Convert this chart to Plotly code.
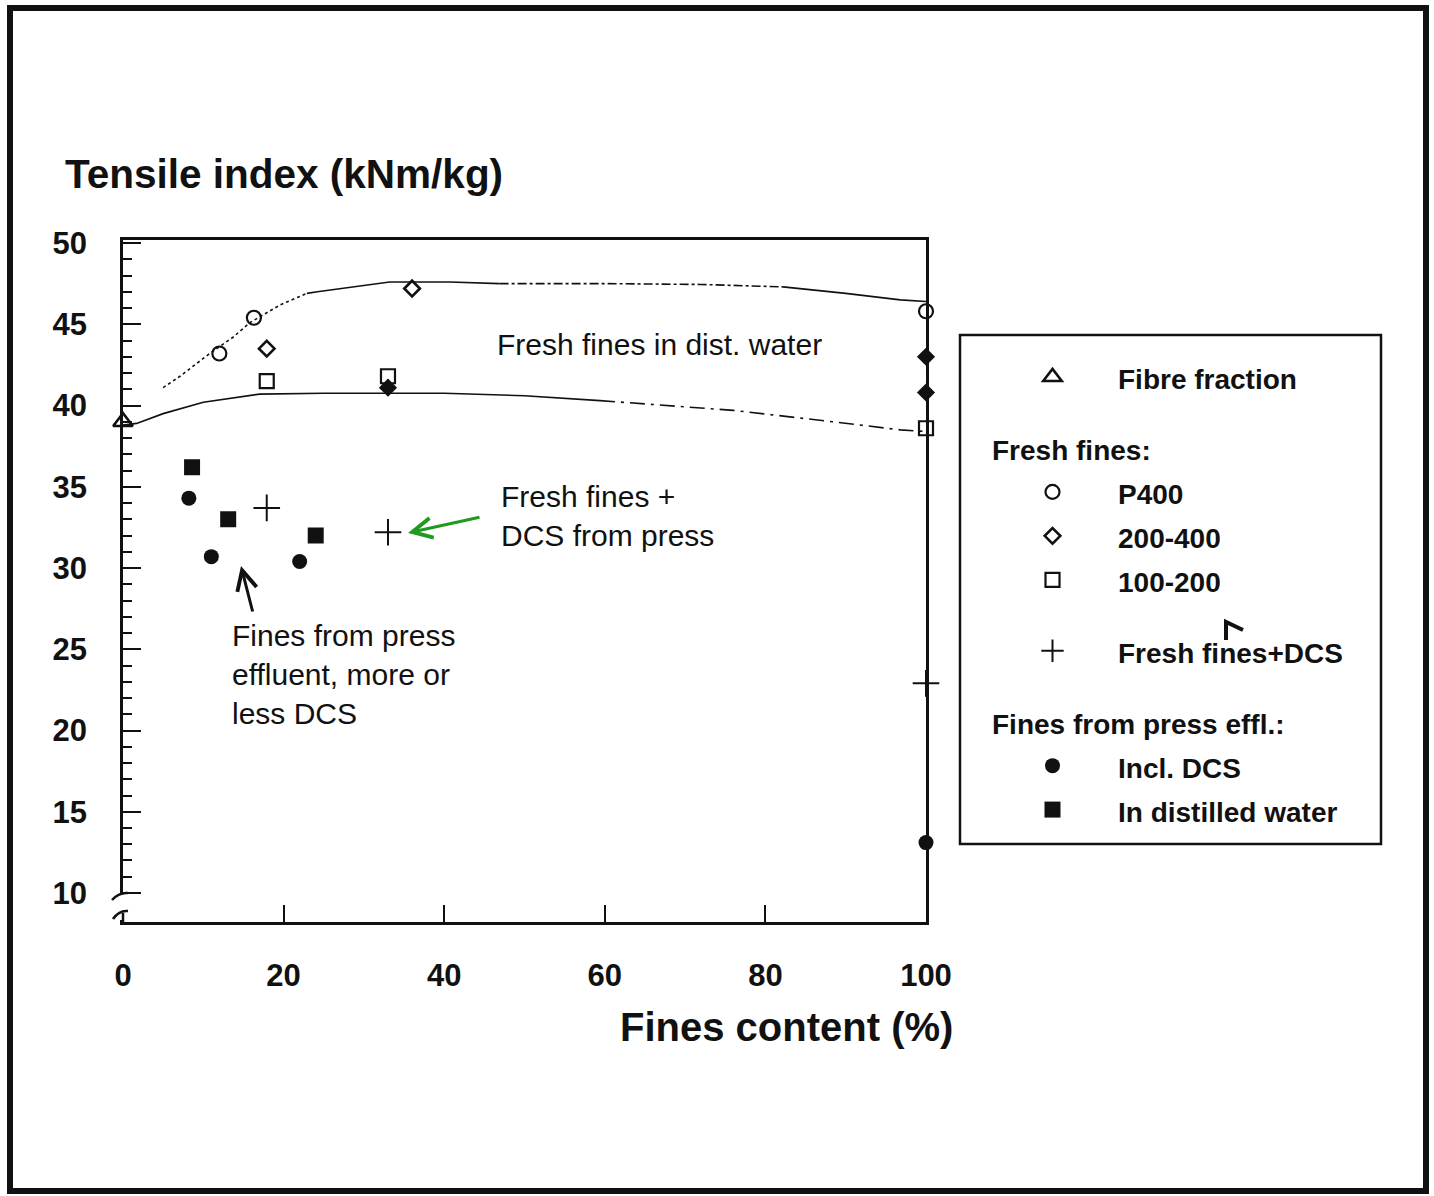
import plotly.graph_objects as go

W, H = 1434, 1196


def px(x):
    return x / W


def py(y):
    return 1 - y / H


# ---------------- data ----------------
fibre_x = [0]
fibre_y = [39.0]

p400_x = [12.0, 16.3, 100]
p400_y = [43.2, 45.4, 45.8]

d200_x = [17.9, 36.0]
d200_y = [43.5, 47.2]
d200_filled_x = [33.0, 100, 100]
d200_filled_y = [41.1, 43.0, 40.8]

s100_x = [17.9, 33.0, 100]
s100_y = [41.5, 41.8, 38.6]

dcs_x = [17.9, 33.0, 100]
dcs_y = [33.7, 32.2, 22.9]

incl_x = [8.2, 11.0, 22.0, 100]
incl_y = [34.3, 30.7, 30.4, 13.1]

dist_x = [8.6, 13.1, 24.0]
dist_y = [36.2, 33.0, 32.0]

upper_x = [5.0, 7.1, 10.8, 13.7, 15.8, 19.6, 22.9, 24.2, 33.2, 40.7, 46.9, 60.0, 71.9, 82.2, 90.0, 96.8, 100]
upper_y = [41.1, 41.8, 43.2, 44.2, 45.1, 46.2, 46.9, 47.0, 47.6, 47.6, 47.5, 47.5, 47.45, 47.3, 46.9, 46.5, 46.4]

lower_x = [0, 1.7, 5.0, 10.0, 17.0, 25.0, 40.0, 50.0, 59.4, 68.0, 76.0, 88.4, 96.8, 100]
lower_y = [38.8, 38.9, 39.5, 40.2, 40.7, 40.75, 40.75, 40.6, 40.3, 40.0, 39.7, 39.0, 38.5, 38.4]

x_ticks = [0, 20, 40, 60, 80, 100]
y_ticks = [10, 15, 20, 25, 30, 35, 40, 45, 50]

# line segment styles (index ranges into the curve arrays)
upper_segments = [(0, 7, "dot"), (6, 11, "solid"), (10, 14, "dashdot"), (13, 17, "solid")]
lower_segments = [(0, 9, "solid"), (8, 14, "longdashdot")]

FONT = "Liberation Sans"
BLACK = "#111111"


def leg(txt):
    return f'<span style="font-size:28px">{txt}</span>'


fig = go.Figure()

for a, b, dash in upper_segments:
    fig.add_trace(go.Scatter(x=upper_x[a:b], y=upper_y[a:b], mode="lines",
                             line=dict(color=BLACK, width=1.6, dash=dash),
                             showlegend=False, hoverinfo="skip"))
for a, b, dash in lower_segments:
    fig.add_trace(go.Scatter(x=lower_x[a:b], y=lower_y[a:b], mode="lines",
                             line=dict(color=BLACK, width=1.6, dash=dash),
                             showlegend=False, hoverinfo="skip"))

open_line = dict(color=BLACK, width=2.2)
title_font = dict(family=FONT, size=31.5, color=BLACK)

fig.add_trace(go.Scatter(x=fibre_x, y=fibre_y, mode="markers", name=leg("Fibre fraction"),
                         legendgroup="g0", legendrank=1,
                         marker=dict(symbol="triangle-up-open", size=17, color=BLACK, line=dict(color=BLACK, width=2.6)),
                         cliponaxis=False))
fig.add_trace(go.Scatter(x=p400_x, y=p400_y, mode="markers", name=leg("P400"),
                         legendgroup="g1", legendrank=2,
                         legendgrouptitle=dict(text='<b><span style="font-size:28px">Fresh fines:</span></b>', font=title_font),
                         marker=dict(symbol="circle-open", size=14, color=BLACK, line=open_line),
                         cliponaxis=False))
fig.add_trace(go.Scatter(x=d200_x, y=d200_y, mode="markers", name=leg("200-400"),
                         legendgroup="g1", legendrank=3,
                         marker=dict(symbol="diamond-open", size=12, color=BLACK, line=dict(color=BLACK, width=2.6)),
                         cliponaxis=False))
fig.add_trace(go.Scatter(x=s100_x, y=s100_y, mode="markers", name=leg("100-200"),
                         legendgroup="g1", legendrank=4,
                         marker=dict(symbol="square-open", size=14, color=BLACK, line=open_line),
                         cliponaxis=False))
fig.add_trace(go.Scatter(x=d200_filled_x, y=d200_filled_y, mode="markers", name="200-400 (filled)",
                         showlegend=False,
                         marker=dict(symbol="diamond", size=14, color=BLACK),
                         cliponaxis=False))
fig.add_trace(go.Scatter(x=dcs_x, y=dcs_y, mode="markers", name=leg("Fresh fines+DCS"),
                         legendgroup="g2", legendrank=5,
                         marker=dict(symbol="cross-thin-open", size=19, color=BLACK, line=dict(color=BLACK, width=2)),
                         cliponaxis=False))
fig.add_trace(go.Scatter(x=incl_x, y=incl_y, mode="markers", name=leg("Incl. DCS"),
                         legendgroup="g3", legendrank=6,
                         legendgrouptitle=dict(text='<b><span style="font-size:28px">Fines from press effl.:</span></b>', font=title_font),
                         marker=dict(symbol="circle", size=15, color=BLACK),
                         cliponaxis=False))
fig.add_trace(go.Scatter(x=dist_x, y=dist_y, mode="markers", name=leg("In distilled water"),
                         legendgroup="g3", legendrank=7,
                         marker=dict(symbol="square", size=16, color=BLACK),
                         cliponaxis=False))

y_minor = [v for v in range(11, 50) if v % 5 != 0]

fig.update_layout(
    width=W, height=H,
    margin=dict(l=0, r=0, t=0, b=0, autoexpand=False),
    paper_bgcolor="white", plot_bgcolor="white",
    font=dict(family=FONT, color=BLACK),
    xaxis=dict(domain=[px(123), px(926)], range=[0, 100],
               tickvals=x_ticks, ticktext=[str(v) for v in x_ticks],
               ticks="inside", ticklen=17, tickwidth=2, tickcolor=BLACK,
               showline=True, linewidth=2.5, linecolor=BLACK, mirror=True,
               showgrid=False, zeroline=False,
               tickfont=dict(family=FONT, size=31, color=BLACK, weight="bold"),
               ticklabelstandoff=24),
    yaxis=dict(domain=[py(922), py(240)], range=[8.215, 50.185],
               tickvals=y_ticks, ticktext=[str(v) for v in y_ticks],
               ticks="inside", ticklen=18, tickwidth=2, tickcolor=BLACK,
               minor=dict(tickmode="array", tickvals=y_minor, ticks="inside", ticklen=9,
                          tickwidth=2, tickcolor=BLACK, showgrid=False),
               showline=True, linewidth=2.5, linecolor=BLACK, mirror=True,
               showgrid=False, zeroline=False,
               tickfont=dict(family=FONT, size=31, color=BLACK, weight="bold"),
               ticklabelstandoff=27),
    legend=dict(x=px(987), y=py(350), xanchor="left", yanchor="top",
                bgcolor="rgba(0,0,0,0)", borderwidth=0,
                font=dict(family=FONT, size=31.5, color=BLACK, weight="bold"),
                tracegroupgap=27, itemwidth=121, traceorder="grouped"),
    showlegend=True,
)

shapes = []
# outer frame
shapes.append(dict(type="rect", xref="paper", yref="paper", x0=px(10), x1=px(1426), y0=py(1191), y1=py(8),
                   line=dict(color=BLACK, width=6), layer="above"))
# legend box
shapes.append(dict(type="rect", xref="paper", yref="paper", x0=px(960), x1=px(1381), y0=py(844), y1=py(335),
                   line=dict(color=BLACK, width=2.5), layer="above"))
# axis break: hide left axis between 10 and bottom
shapes.append(dict(type="rect", xref="paper", yref="paper", x0=px(114), x1=px(134), y0=py(920), y1=py(895),
                   fillcolor="white", line=dict(width=0), layer="above"))


def path(points):
    return "M " + " L ".join(f"{px(x):.5f},{py(y):.5f}" for x, y in points)


shapes.append(dict(type="path", xref="paper", yref="paper",
                   path="M {:.5f},{:.5f} Q {:.5f},{:.5f} {:.5f},{:.5f}".format(px(112), py(900), px(119), py(892), px(128), py(893)),
                   line=dict(color=BLACK, width=2.5), layer="above"))
shapes.append(dict(type="path", xref="paper", yref="paper",
                   path="M {:.5f},{:.5f} Q {:.5f},{:.5f} {:.5f},{:.5f}".format(px(113), py(919), px(119), py(910), px(128), py(911)),
                   line=dict(color=BLACK, width=2.5), layer="above"))
shapes.append(dict(type="path", xref="paper", yref="paper", path=path([(123, 913), (123, 923)]),
                   line=dict(color=BLACK, width=2.5), layer="above"))
# stray mark in legend
shapes.append(dict(type="path", xref="paper", yref="paper", path=path([(1226, 640), (1226, 622), (1243, 630)]),
                   line=dict(color=BLACK, width=4), layer="above"))
fig.update_layout(shapes=shapes)

ann_font = dict(family=FONT, size=30, color=BLACK)
annotations = [
    dict(text="<b>Tensile index (kNm/kg)</b>", x=px(63), y=py(174), xref="paper", yref="paper",
         xanchor="left", yanchor="middle", showarrow=False, font=dict(family=FONT, size=40.5, color=BLACK)),
    dict(text="<b>Fines content (%)</b>", x=px(618), y=py(1027), xref="paper", yref="paper",
         xanchor="left", yanchor="middle", showarrow=False, font=dict(family=FONT, size=40, color=BLACK)),
    dict(text="Fresh fines in dist. water", x=px(495), y=py(345), xref="paper", yref="paper",
         xanchor="left", yanchor="middle", showarrow=False, font=ann_font),
    dict(text="Fresh fines +<br>DCS from press", x=px(499), y=py(516), xref="paper", yref="paper",
         xanchor="left", yanchor="middle", align="left", showarrow=False, font=ann_font),
    dict(text="Fines from press<br>effluent, more or<br>less DCS", x=px(230), y=py(674), xref="paper", yref="paper",
         xanchor="left", yanchor="middle", align="left", showarrow=False, font=ann_font),
    dict(text="", x=px(408), y=py(533), xref="paper", yref="paper", showarrow=True,
         ax=73, ay=-16, arrowhead=5, arrowsize=1.3, arrowwidth=3, arrowcolor="#1f9a1f", standoff=0),
    dict(text="", x=px(241), y=py(566), xref="paper", yref="paper", showarrow=True,
         ax=12, ay=47, arrowhead=5, arrowsize=1.3, arrowwidth=3, arrowcolor=BLACK, standoff=0),
]
fig.update_layout(annotations=annotations)

fig.write_html("out.html", config={"displayModeBar": False},
               post_script="document.body.style.margin='0';")
